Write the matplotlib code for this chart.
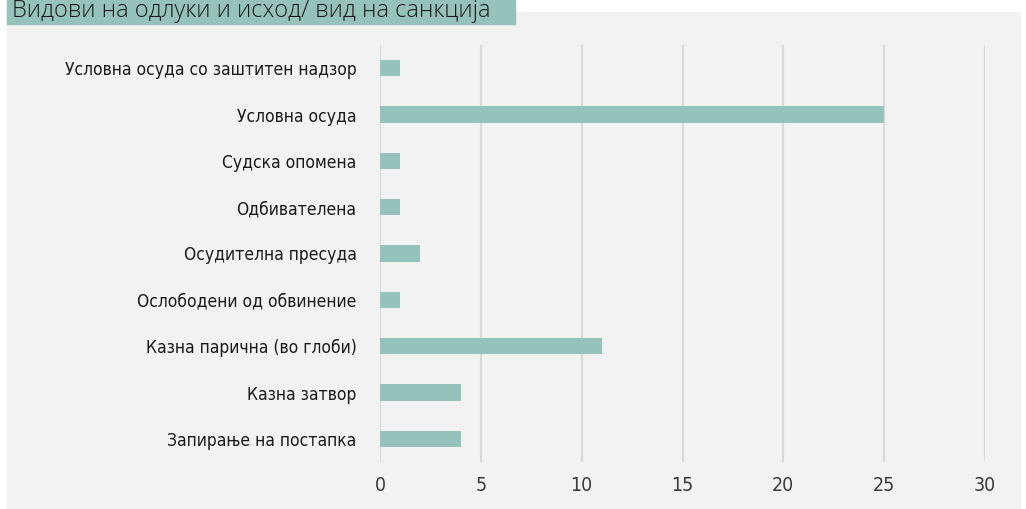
import matplotlib
matplotlib.use("Agg")
import matplotlib.pyplot as plt
from matplotlib import font_manager
from matplotlib.font_manager import FontProperties
from matplotlib.ft2font import FT2Font
from matplotlib.patches import Rectangle

# data, top to bottom as shown
categories = [
    "Условна осуда со заштитен надзор",
    "Условна осуда",
    "Судска опомена",
    "Одбивателена",
    "Осудителна пресуда",
    "Ослободени од обвинение",
    "Казна парична (во глоби)",
    "Казна затвор",
    "Запирање на постапка",
]
counts = [1, 25, 1, 1, 2, 1, 11, 4, 4]
xticks = [0, 5, 10, 15, 20, 25, 30]
title = "Видови на одлуки и исход/ вид на санкција"

TEAL = "#95c2bb"
PANEL = "#f2f2f2"
GRID = "#d9d9d9"


def condensed_cyrillic_font():
    """first installed condensed regular face that covers the label glyphs"""
    need = set("".join(categories) + "0123456789")
    need.discard(" ")
    for f in font_manager.fontManager.ttflist:
        st = str(f.stretch).lower()
        cond = ("condensed" in st or "narrow" in st or "Narrow" in f.name
                or "Condensed" in f.name or "condensed" in f.fname.lower()
                or "narrow" in f.fname.lower())
        if not cond or f.style != "normal":
            continue
        if f.weight not in (400, "normal", "regular", "book"):
            continue
        try:
            cmap = FT2Font(f.fname).get_charmap()
        except Exception:
            continue
        if all(ord(c) in cmap for c in need):
            return f.fname
    return None


path = condensed_cyrillic_font()
if path:
    lbl_fp = FontProperties(fname=path, size=12.5)
    tick_fp = FontProperties(fname=path, size=14)
else:
    lbl_fp = FontProperties(family="Liberation Sans", size=11.5)
    tick_fp = FontProperties(family="Liberation Sans", size=13)

W, H = 1026, 509
fig = plt.figure(figsize=(W / 100, H / 100), dpi=100)
fig.patch.set_facecolor("white")

# grey panel and title band
fig.add_artist(Rectangle((7 / W, 0), (1020 - 7) / W, (H - 12) / H,
                         transform=fig.transFigure, color=PANEL, zorder=0))
fig.add_artist(Rectangle((7 / W, (H - 24) / H), (515 - 7) / W, 24 / H,
                         transform=fig.transFigure, color=TEAL, zorder=1))
fig.text(12 / W, (H - 17) / H, title, fontsize=17, color="#1a1a1a",
         family=["Open Sans", "DejaVu Sans"], fontweight="light",
         va="baseline", ha="left", zorder=2)

ax = fig.add_axes([380 / W, 1 - 462 / H, (985 - 380) / W, (462 - 45) / H])
ax.set_facecolor("none")
ypos = list(range(len(categories)))
ax.barh(ypos, counts, height=0.35, color=TEAL, zorder=3)
ax.set_ylim(len(categories) - 0.5, -0.5)
ax.set_xlim(0, 30)
ax.set_xticks(xticks)
ax.set_yticks(ypos)
ax.set_yticklabels(categories, fontproperties=lbl_fp, color="#1a1a1a")
ax.set_xticklabels([str(t) for t in xticks], fontproperties=tick_fp,
                   color="#3a3a3a")
ax.tick_params(axis="both", length=0)
ax.tick_params(axis="y", pad=17)
ax.tick_params(axis="x", pad=10)
ax.grid(axis="x", color=GRID, lw=1.5, zorder=0)
for s in ax.spines.values():
    s.set_visible(False)

fig.savefig("out.png", dpi=100)
